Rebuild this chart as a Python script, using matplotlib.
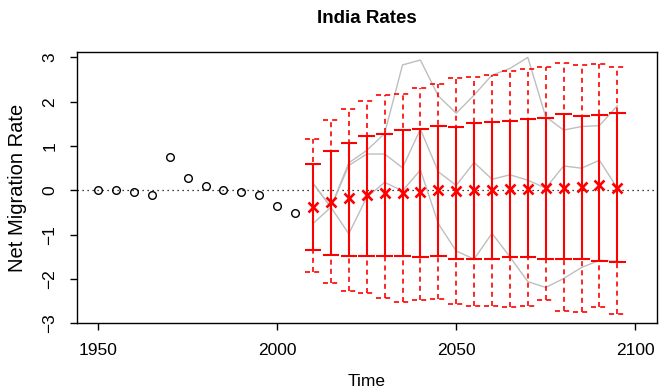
import matplotlib.pyplot as plt
import numpy as np

plt.rcParams['font.family'] = ['Liberation Sans', 'DejaVu Sans']

# observed net migration rates
obs_years = list(range(1950, 2010, 5))
obs_rate = [0.0, 0.0, -0.04, -0.11, 0.76, 0.27, 0.10, 0.0, -0.03, -0.10, -0.35, -0.50]

# projection: median, 80% and 95% intervals
proj_years = list(range(2010, 2100, 5))
median = [-0.37, -0.27, -0.18, -0.11, -0.06, -0.05, -0.04, 0.0, -0.02,
          0.0, 0.01, 0.03, 0.04, 0.06, 0.06, 0.08, 0.11, 0.05]
hi80 = [0.60, 0.89, 1.06, 1.23, 1.28, 1.36, 1.38, 1.45, 1.44,
        1.51, 1.55, 1.57, 1.60, 1.64, 1.72, 1.68, 1.70, 1.75]
lo80 = [-1.34, -1.45, -1.48, -1.48, -1.48, -1.49, -1.51, -1.47, -1.54,
        -1.56, -1.56, -1.51, -1.51, -1.54, -1.54, -1.55, -1.60, -1.62]
hi95 = [1.16, 1.58, 1.84, 2.02, 2.15, 2.17, 2.32, 2.39, 2.53,
        2.55, 2.60, 2.70, 2.74, 2.79, 2.88, 2.82, 2.84, 2.78]
lo95 = [-1.85, -2.08, -2.27, -2.32, -2.44, -2.52, -2.47, -2.45, -2.56,
        -2.60, -2.60, -2.63, -2.60, -2.48, -2.72, -2.74, -2.63, -2.78]

# a few sample trajectories
traj1 = [0.16, -0.38, 0.62, 0.90, 1.28, 2.83, 2.94, 2.13, 1.74,
         2.15, 2.60, 2.75, 3.00, 1.66, 1.36, 1.44, 1.46, 1.91]
traj2 = [-0.75, -0.38, 0.56, 0.82, 0.82, 0.51, 1.38, 0.42, 0.11,
         0.63, 0.25, 0.35, 0.23, 0.05, 0.55, 0.50, 0.68, 0.05]
traj3 = [0.16, -0.38, -0.98, -0.16, 0.18, -0.01, 0.46, -0.75, -1.37,
         -1.55, -0.97, -1.50, -2.06, -2.19, -1.99, -1.74, -1.58, -1.60]

fig = plt.figure(figsize=(6.59, 3.90), dpi=100)
ax = fig.add_axes([0.1164, 0.171, 0.8801, 0.6949])

ax.axhline(0, color='black', lw=0.9, linestyle=(0, (1, 3)), zorder=1)

for tr in [traj1, traj2, traj3]:
    ax.plot(proj_years, tr, color='#bebebe', lw=1.0, zorder=2)

yrs = np.array(proj_years)
cap = 2.3
dash = (0, (3, 2.5))
ax.vlines(yrs, lo95, hi95, colors='red', lw=1.2, linestyles=dash, zorder=3)
ax.hlines(hi95, yrs - cap, yrs + cap, colors='red', lw=1.2, linestyles=dash, zorder=3)
ax.hlines(lo95, yrs - cap, yrs + cap, colors='red', lw=1.2, linestyles=dash, zorder=3)
ax.vlines(yrs, lo80, hi80, colors='red', lw=1.5, zorder=4)
ax.hlines(hi80, yrs - cap, yrs + cap, colors='red', lw=1.5, zorder=4)
ax.hlines(lo80, yrs - cap, yrs + cap, colors='red', lw=1.5, zorder=4)
ax.plot(proj_years, median, 'x', color='red', ms=6.5, mew=1.9, zorder=5)

ax.plot(obs_years, obs_rate, 'o', mfc='none', mec='black', ms=5.5, mew=1.0, zorder=5)

ax.set_xlim(1944, 2106)
ax.set_ylim(-3.0, 3.115)
ax.set_xticks([1950, 2000, 2050, 2100])
ax.set_yticks([-3, -2, -1, 0, 1, 2, 3])
ax.set_yticklabels(['\u22123', '\u22122', '\u22121', '0', '1', '2', '3'],
                   rotation=90, va='center')
ax.tick_params(direction='out', length=5, width=1, labelsize=12.5)
ax.tick_params(axis='x', pad=9)
ax.tick_params(axis='y', pad=9)
for s in ax.spines.values():
    s.set_linewidth(1.0)

ax.set_title('India Rates', fontsize=13.5, fontweight='bold', pad=21)
ax.set_xlabel('Time', fontsize=12.5, labelpad=12)
ax.set_ylabel('Net Migration Rate', fontsize=14.5, labelpad=11)

fig.savefig('out.png', dpi=100)
